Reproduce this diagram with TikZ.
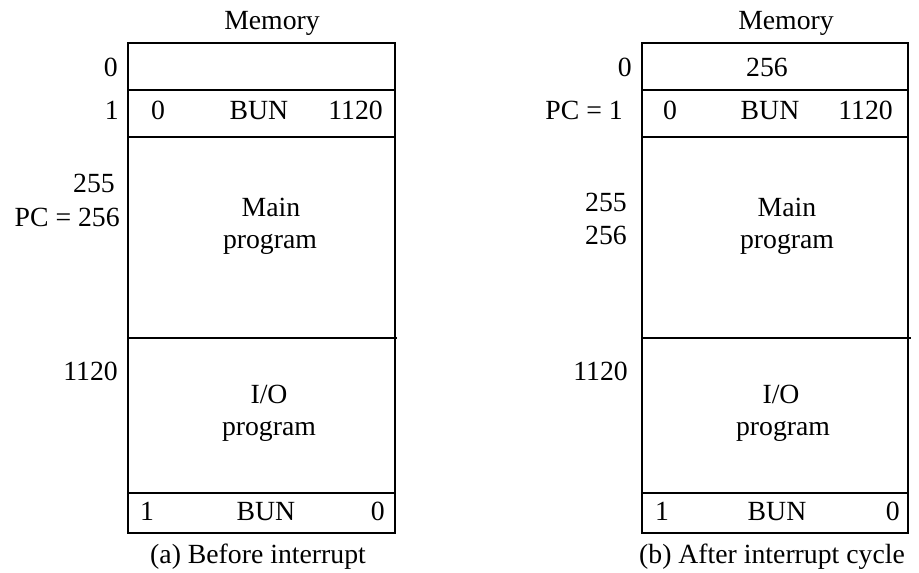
\documentclass[tikz,border=0pt]{standalone}
\usepackage{fontspec}
\setmainfont{Liberation Serif}
\begin{document}
\begin{tikzpicture}[x=0.75pt,y=-0.75pt,
  every node/.style={font=\fontsize{20.8}{25}\selectfont, inner sep=0pt, anchor=base},
  cell/.style={draw, line width=1pt},
  sep/.style={line width=1pt},
  lab/.style={anchor=base east}]
\useasboundingbox (0,0) rectangle (919,573);

% ---- (a) Before interrupt ----
\draw[cell] (128,43) rectangle (395,533);
\draw[sep] (128,90) -- (395,90);
\draw[sep] (128,137) -- (395,137);
\draw[sep] (128,338) -- (397,338);
\draw[sep] (128,493) -- (395,493);
\node (amem) at (272,30) {Memory};
\node (a1l) at (158,120) {0};
\node (a1m) at (259,120) {BUN};
\node[lab] (a1r) at (383,120) {1120};
\node (amain) at (271,217) {Main};
\node (aprog) at (270,248) {program};
\node (aio) at (269,403) {I/O};
\node (aioprog) at (269,435) {program};
\node (abl) at (147,520) {1};
\node (abm) at (266,520) {BUN};
\node[lab] (abr) at (385,520) {0};
\node[lab] (a0) at (118,77) {0};
\node[lab] (a1) at (119,120) {1};
\node[lab] (a255) at (115,193) {255};
\node[lab] (apc) at (120,227) {PC = 256};
\node[lab] (a1120) at (118,380) {1120};
\node (acap) at (258,563) {(a) Before interrupt};

% ---- (b) After interrupt cycle ----
\draw[cell] (642,43) rectangle (908,533);
\draw[sep] (642,90) -- (908,90);
\draw[sep] (642,137) -- (908,137);
\draw[sep] (642,338) -- (911,338);
\draw[sep] (642,493) -- (908,493);
\node (bmem) at (786,30) {Memory};
\node (b0v) at (767,77) {256};
\node (b1l) at (670,120) {0};
\node (b1m) at (770,120) {BUN};
\node[lab] (b1r) at (893,120) {1120};
\node (bmain) at (787,217) {Main};
\node (bprog) at (787,248) {program};
\node (bio) at (781,403) {I/O};
\node (bioprog) at (783,435) {program};
\node (bbl) at (662,520) {1};
\node (bbm) at (777,520) {BUN};
\node[lab] (bbr) at (900,520) {0};
\node[lab] (b0) at (632,77) {0};
\node[lab] (bpc) at (623,120) {PC = 1};
\node[lab] (b255) at (627,212) {255};
\node[lab] (b256) at (627,245) {256};
\node[lab] (b1120) at (628,380) {1120};
\node (bcap) at (772,563) {(b) After interrupt cycle};
\end{tikzpicture}
\end{document}
